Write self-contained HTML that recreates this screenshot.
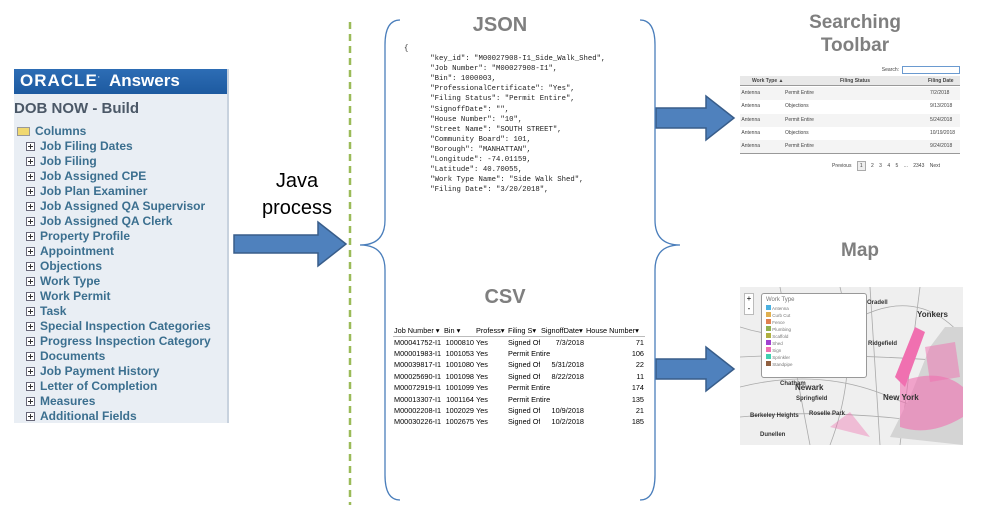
<!DOCTYPE html>
<html><head><meta charset="utf-8"><style>
*{margin:0;padding:0;box-sizing:border-box}
body{width:989px;height:518px;background:#fff;position:relative;overflow:hidden;font-family:"Liberation Sans",sans-serif}
.a{position:absolute}
#ora{left:14px;top:69px;width:215px;height:354px;background:#e9eef4;border-right:2px solid #c8d2de}
#ora .hd{height:25px;background:linear-gradient(#2d6db5,#1d5aa0);color:#fff;font-weight:bold;font-size:17px;padding:2px 0 0 6px;white-space:nowrap}
#ora .t{color:#4b5867;font-size:15px;font-weight:bold;margin:6px 0 0 0}
.it{position:absolute;left:12px;font-size:12px;color:#3b6f8f;font-weight:bold;white-space:nowrap}
.it i{display:inline-block;width:9px;height:9px;border:1px solid #667;margin-right:5px;vertical-align:-1px;background:#fff;position:relative}
.it i:before{content:"";position:absolute;left:1px;top:3px;width:5px;height:1px;background:#333}
.it i:after{content:"";position:absolute;left:3px;top:1px;width:1px;height:5px;background:#333}
.title{color:#7f7f7f;font-weight:bold;font-size:20px;text-align:center}
pre{font-family:"Liberation Mono",monospace;font-size:7.3px;line-height:10.1px;color:#222}
table{border-collapse:collapse;font-size:7.3px;font-family:"Liberation Sans",sans-serif;table-layout:fixed;white-space:nowrap}
table td{height:11.4px;overflow:hidden;padding:0 1px}
</style></head><body>
<div id="ora" class="a">
<div class="hd"><span style="letter-spacing:1px">ORACLE</span><sup style="font-size:7px">·</sup>&nbsp; Answers</div>
<div class="t">DOB NOW - Build</div>
</div>
<div class="a" style="left:17px;top:127px;width:13px;height:9px;background:#f0d870;border:1px solid #999"></div>
<div class="a" style="left:35px;top:124px;font-size:12px;color:#3b6f8f;font-weight:bold">Columns</div>
<div class="a" style="left:14px;top:139px;width:215px">
<div class="it" style="top:0"><i></i>Job Filing Dates</div>
<div class="it" style="top:15px"><i></i>Job Filing</div>
<div class="it" style="top:30px"><i></i>Job Assigned CPE</div>
<div class="it" style="top:45px"><i></i>Job Plan Examiner</div>
<div class="it" style="top:60px"><i></i>Job Assigned QA Supervisor</div>
<div class="it" style="top:75px"><i></i>Job Assigned QA Clerk</div>
<div class="it" style="top:90px"><i></i>Property Profile</div>
<div class="it" style="top:105px"><i></i>Appointment</div>
<div class="it" style="top:120px"><i></i>Objections</div>
<div class="it" style="top:135px"><i></i>Work Type</div>
<div class="it" style="top:150px"><i></i>Work Permit</div>
<div class="it" style="top:165px"><i></i>Task</div>
<div class="it" style="top:180px"><i></i>Special Inspection Categories</div>
<div class="it" style="top:195px"><i></i>Progress Inspection Category</div>
<div class="it" style="top:210px"><i></i>Documents</div>
<div class="it" style="top:225px"><i></i>Job Payment History</div>
<div class="it" style="top:240px"><i></i>Letter of Completion</div>
<div class="it" style="top:255px"><i></i>Measures</div>
<div class="it" style="top:270px"><i></i>Additional Fields</div>
</div>
<div class="a" style="left:262px;top:168px;font-size:20px;line-height:27px;text-align:center;color:#000">Java<br>process</div>
<svg class="a" style="left:0;top:0" width="989" height="518">
<line x1="350" y1="22" x2="350" y2="505" stroke="#9bbb59" stroke-width="2.5" stroke-dasharray="7,5"/>
<g fill="#4f81bd" stroke="#385d8a" stroke-width="1.5">
<path d="M234 235 H318 V222 L346 244 L318 266 V253 H234 Z"/>
<path d="M656 108 H706 V96 L734 118 L706 140 V128 H656 Z"/>
<path d="M656 359 H706 V347 L734 369 L706 391 V379 H656 Z"/>
</g>
<g fill="none" stroke="#4a7ebb" stroke-width="1.3">
<path d="M400 20 Q385 20 385 45 V220 Q385 245 360 245 Q385 245 385 270 V475 Q385 500 400 500"/>
<path d="M640 20 Q655 20 655 45 V220 Q655 245 680 245 Q655 245 655 270 V475 Q655 500 640 500"/>
</g>
</svg>
<div class="a title" style="left:450px;top:14px;width:100px">JSON</div>
<div class="a title" style="left:470px;top:286px;width:70px">CSV</div>
<div class="a title" style="left:790px;top:11px;width:130px;font-size:19px;line-height:23px">Searching<br>Toolbar</div>
<div class="a title" style="left:820px;top:240px;width:80px;font-size:19px">Map</div>
<pre class="a" style="left:404px;top:44px;height:152px;overflow:hidden">{
      "key_id": "M00027908-I1_Side_Walk_Shed",
      "Job Number": "M00027908-I1",
      "Bin": 1000003,
      "ProfessionalCertificate": "Yes",
      "Filing Status": "Permit Entire",
      "SignoffDate": "",
      "House Number": "10",
      "Street Name": "SOUTH STREET",
      "Community Board": 101,
      "Borough": "MANHATTAN",
      "Longitude": -74.01159,
      "Latitude": 40.70055,
      "Work Type Name": "Side Walk Shed",
      "Filing Date": "3/20/2018",
      "Filing Date": "3/20/2018",</pre>
<table class="a" style="left:393px;top:325px;width:252px">
<colgroup><col style="width:50px"><col style="width:32px"><col style="width:32px"><col style="width:33px"><col style="width:45px"><col style="width:60px"></colgroup>
<tr style="border-bottom:1px solid #bbb"><td>Job Number ▾</td><td>Bin ▾</td><td>Profess▾</td><td>Filing S▾</td><td>SignoffDate▾</td><td>House Number▾</td></tr>
<tr><td>M00041752-I1</td><td align=right>1000810</td><td>Yes</td><td>Signed Of</td><td align=right>7/3/2018</td><td align=right>71</td></tr>
<tr><td>M00001983-I1</td><td align=right>1001053</td><td>Yes</td><td colspan=2>Permit Entire</td><td align=right>106</td></tr>
<tr><td>M00039817-I1</td><td align=right>1001080</td><td>Yes</td><td>Signed Of</td><td align=right>5/31/2018</td><td align=right>22</td></tr>
<tr><td>M00025690-I1</td><td align=right>1001098</td><td>Yes</td><td>Signed Of</td><td align=right>8/22/2018</td><td align=right>11</td></tr>
<tr><td>M00072919-I1</td><td align=right>1001099</td><td>Yes</td><td colspan=2>Permit Entire</td><td align=right>174</td></tr>
<tr><td>M00013307-I1</td><td align=right>1001164</td><td>Yes</td><td colspan=2>Permit Entire</td><td align=right>135</td></tr>
<tr><td>M00002208-I1</td><td align=right>1002029</td><td>Yes</td><td>Signed Of</td><td align=right>10/9/2018</td><td align=right>21</td></tr>
<tr><td>M00030226-I1</td><td align=right>1002675</td><td>Yes</td><td>Signed Of</td><td align=right>10/2/2018</td><td align=right>185</td></tr>
</table>
<div class="a" style="left:740px;top:64px;width:222px;height:112px;font-size:5px;color:#444">
<div style="position:absolute;right:2px;top:2px;width:58px;height:8px;border:1px solid #6a9ad0"></div>
<div style="position:absolute;right:63px;top:3px">Search:</div>
<div style="position:absolute;left:0;top:12px;width:220px;height:10px;background:#e8e8e8;border-bottom:1px solid #999;font-weight:bold"><span style="position:absolute;left:12px;top:2px">Work Type ▲</span><span style="position:absolute;left:100px;top:2px">Filing Status</span><span style="position:absolute;left:188px;top:2px">Filing Date</span></div>
<div style="position:absolute;left:0;top:23px;width:220px;line-height:13.3px">
<div style="background:#f4f4f4">&nbsp;Antenna <span style="position:absolute;left:45px">Permit Entire</span><span style="position:absolute;left:190px">7/2/2018</span></div>
<div>&nbsp;Antenna <span style="position:absolute;left:45px">Objections</span><span style="position:absolute;left:190px">9/13/2018</span></div>
<div style="background:#f4f4f4">&nbsp;Antenna <span style="position:absolute;left:45px">Permit Entire</span><span style="position:absolute;left:190px">5/24/2018</span></div>
<div>&nbsp;Antenna <span style="position:absolute;left:45px">Objections</span><span style="position:absolute;left:190px">10/19/2018</span></div>
<div style="background:#f4f4f4;border-bottom:1px solid #999">&nbsp;Antenna <span style="position:absolute;left:45px">Permit Entire</span><span style="position:absolute;left:190px">9/24/2018</span></div>
</div>
<div style="position:absolute;left:92px;top:99px;word-spacing:4px">Previous <span style="border:1px solid #aaa;background:#eee;padding:1px 2px">1</span> 2 3 4 5 ... 2343 Next</div>
</div>
<div class="a" style="left:740px;top:287px;width:223px;height:158px;background:#efefef;overflow:hidden">
<svg width="223" height="158" style="position:absolute;left:0;top:0">
<g stroke="#aaa" fill="none" stroke-width="0.8"><path d="M0 40 Q60 60 120 30 T223 50"/><path d="M0 100 Q80 80 150 110 T223 90"/><path d="M40 0 L70 158"/><path d="M100 0 Q120 80 90 158"/><path d="M180 0 L160 158"/><path d="M0 130 Q100 120 223 140"/><path d="M0 70 Q90 65 223 75"/><path d="M130 0 L140 158"/></g>
<path d="M150 150 L170 110 L190 60 L205 40 L223 40 V158 Z" fill="#d4d4d4"/>
<g fill="#f070b0"><path d="M155 90 L175 40 L185 45 L165 100 Z"/><path d="M160 95 Q200 80 223 100 L223 130 Q190 150 160 140 Z" opacity=".6"/><path d="M185 60 L215 55 L220 90 L190 95 Z" opacity=".5"/><path d="M90 140 L110 125 L130 150 Z" opacity=".4"/></g>
<g font-size="6" font-weight="bold" fill="#333" font-family="Liberation Sans"><text x="177" y="30" font-size="8">Yonkers</text><text x="55" y="103" font-size="8">Newark</text><text x="143" y="113" font-size="8">New York</text><text x="10" y="130">Berkeley Heights</text><text x="69" y="128">Roselle Park</text><text x="127" y="17">Oradell</text><text x="128" y="58">Ridgefield</text><text x="56" y="113">Springfield</text><text x="40" y="98">Chatham</text><text x="20" y="149">Dunellen</text></g>
</svg>
<div style="position:absolute;left:4px;top:6px;width:10px;height:22px;background:#fff;border:1px solid #bbb;font-size:8px;text-align:center;line-height:10px">+<br>-</div>
<div style="position:absolute;left:21px;top:6px;width:106px;height:85px;background:#fff;border:1px solid #999;border-radius:3px;font-size:4.5px;color:#777;padding:3px 4px;line-height:7px">
<div style="font-size:6px;margin-bottom:1px">Work Type</div>
<div><b style="display:inline-block;width:5px;height:5px;background:#4ab0e0"></b> Antenna</div>
<div><b style="display:inline-block;width:5px;height:5px;background:#e0b050"></b> Curb Cut</div>
<div><b style="display:inline-block;width:5px;height:5px;background:#e08050"></b> Fence</div>
<div><b style="display:inline-block;width:5px;height:5px;background:#90b050"></b> Plumbing</div>
<div><b style="display:inline-block;width:5px;height:5px;background:#b0b040"></b> Scaffold</div>
<div><b style="display:inline-block;width:5px;height:5px;background:#a040d0"></b> Shed</div>
<div><b style="display:inline-block;width:5px;height:5px;background:#f070b0"></b> Sign</div>
<div><b style="display:inline-block;width:5px;height:5px;background:#40d0b0"></b> Sprinkler</div>
<div><b style="display:inline-block;width:5px;height:5px;background:#906040"></b> Standpipe</div>
</div>
</div>
</body></html>
